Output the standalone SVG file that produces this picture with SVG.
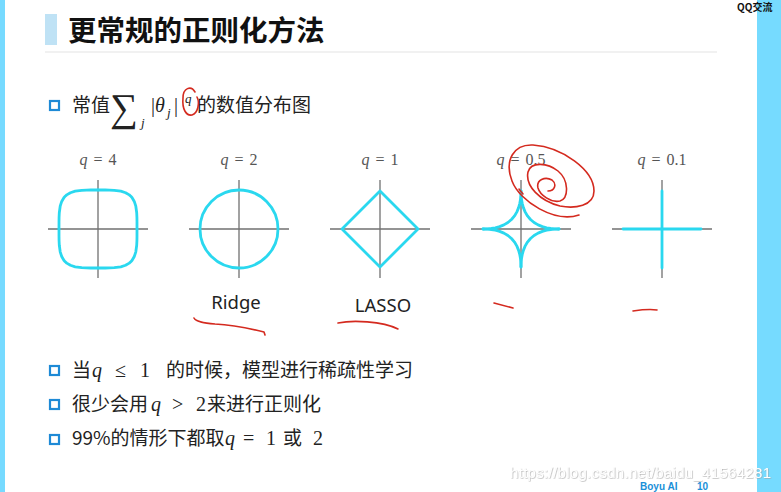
<svg xmlns="http://www.w3.org/2000/svg" xmlns:xlink="http://www.w3.org/1999/xlink" width="781" height="492" viewBox="0 0 781 492">
<style>
.cjk{font-family:"Noto Sans CJK SC","Noto Sans",sans-serif;fill:#222}
.math{font-family:"Liberation Serif","DejaVu Serif",serif;fill:#222}
.it{font-style:italic}
.lbl{font-family:"Liberation Serif","DejaVu Serif",serif;font-size:16px;fill:#555;text-anchor:middle;word-spacing:2px}
.axis{stroke:#707070;stroke-width:1.3;fill:none}
.shape{stroke:#2ad8ef;stroke-width:2.8;fill:none;stroke-linejoin:round;stroke-linecap:round}
.bullet{fill:none;stroke:#1e8ad6;stroke-width:2.2}
.red{stroke:#d42a1f;stroke-width:1.6;fill:none;stroke-linecap:round;stroke-linejoin:round}
.name{font-family:"Noto Sans","Open Sans",sans-serif;font-size:18.5px;fill:#222;text-anchor:middle}
</style>
<defs>
<path id="astro" d="M38,0 L37.43,0 L35.74,-0.04 L33.08,-0.17 L29.63,-0.52 L25.64,-1.21 L21.38,-2.38 L17.11,-4.11 L13.08,-6.49 L9.5,-9.5 L6.49,-13.08 L4.11,-17.11 L2.38,-21.38 L1.21,-25.64 L0.52,-29.63 L0.17,-33.08 L0.04,-35.74 L0,-38"/>
<path id="sup4" d="M39,0 L38.99,-7.29 L38.93,-11.52 L38.7,-16.25 L37.81,-22.81 L36.29,-27.58 L34.13,-31.27 L32.8,-32.8 L31.27,-34.13 L27.58,-36.29 L22.81,-37.81 L16.25,-38.7 L11.52,-38.93 L7.29,-38.99 L0,-39"/>
<filter id="shadow" x="-5%" y="-20%" width="110%" height="140%">
<feDropShadow dx="0.6" dy="0.6" stdDeviation="0.6" flood-color="#9a9a9a" flood-opacity="0.8"/>
</filter>
</defs>
<rect width="781" height="492" fill="#ffffff"/>
<rect x="0" y="0" width="5" height="492" fill="#76daff"/>
<rect x="757" y="0" width="24" height="492" fill="#76dbff"/>
<text x="737" y="11" font-family="'Noto Sans CJK SC',sans-serif" font-size="10" font-weight="bold" fill="#111">QQ交流</text>

<g id="title">
<rect x="45" y="14" width="12" height="31" fill="#bfe2f5"/>
<text x="68" y="41" class="cjk" font-size="28.5" font-weight="bold" style="fill:#111">更常规的正则化方法</text>
<line x1="45" y1="52" x2="717" y2="52" stroke="#e4e4e4" stroke-width="1.2"/>
</g>

<g id="line-formula">
<rect class="bullet" x="50" y="101" width="9" height="9"/>
<text x="72" y="112" class="cjk" font-size="19">常值</text>
<text x="110" y="121" class="math" font-size="39">∑</text>
<text x="141" y="127" class="math it" font-size="13">j</text>
<text x="151" y="112" class="math" font-size="20">|<tspan class="it">θ</tspan></text>
<text x="167" y="117" class="math it" font-size="13">j</text>
<text x="174" y="112" class="math" font-size="20">|</text>
<text x="185" y="103" class="math it" font-size="13">q</text>
<text x="197" y="112" class="cjk" font-size="19">的数值分布图</text>
</g>

<g id="panel-q4">
<text x="98" y="165" class="lbl"><tspan font-style="italic">q</tspan> = 4</text>
<line class="axis" x1="48" y1="229" x2="148" y2="229"/>
<line class="axis" x1="98" y1="180" x2="98" y2="278"/>
<g transform="translate(98,229)" class="shape">
<use href="#sup4"/><use href="#sup4" transform="scale(-1,1)"/><use href="#sup4" transform="scale(1,-1)"/><use href="#sup4" transform="scale(-1,-1)"/>
</g>
</g>

<g id="panel-q2">
<text x="239" y="165" class="lbl"><tspan font-style="italic">q</tspan> = 2</text>
<line class="axis" x1="189" y1="229" x2="289" y2="229"/>
<line class="axis" x1="239" y1="180" x2="239" y2="278"/>
<circle class="shape" cx="239" cy="229" r="39"/>
<text x="236" y="309" class="name">Ridge</text>
</g>

<g id="panel-q1">
<text x="380" y="165" class="lbl"><tspan font-style="italic">q</tspan> = 1</text>
<line class="axis" x1="330" y1="229" x2="430" y2="229"/>
<line class="axis" x1="380" y1="180" x2="380" y2="278"/>
<polygon class="shape" points="380,191 418,229 380,267 342,229"/>
<text x="383" y="312" class="name">LASSO</text>
</g>

<g id="panel-q05">
<text x="521" y="165" class="lbl"><tspan font-style="italic">q</tspan> = 0.5</text>
<line class="axis" x1="471" y1="229" x2="571" y2="229"/>
<line class="axis" x1="521" y1="180" x2="521" y2="278"/>
<g transform="translate(521,229)" class="shape">
<use href="#astro"/><use href="#astro" transform="scale(-1,1)"/><use href="#astro" transform="scale(1,-1)"/><use href="#astro" transform="scale(-1,-1)"/>
</g>
</g>

<g id="panel-q01">
<text x="662" y="165" class="lbl"><tspan font-style="italic">q</tspan> = 0.1</text>
<line class="axis" x1="612" y1="229" x2="712" y2="229"/>
<line class="axis" x1="662" y1="180" x2="662" y2="278"/>
<line class="shape" x1="623" y1="229" x2="701" y2="229"/>
<line class="shape" x1="662" y1="191" x2="662" y2="268"/>
</g>

<g id="annotations">
<path class="red" d="M195,92 C191,85 183,88 183,98 C182,109 186,116 192,115 C198,113 200,103 197,97"/>
<path class="red" d="M579,215 C555,223 520,202 512,181 C504,160 514,144 533,145 C562,147 594,170 594,191 C594,206 575,209 560,206 C540,201 525,186 528,172 C531,161 548,163 558,171 C569,180 569,198 560,201 C551,203 540,195 538,188 C536,180 545,176 552,180 C557,184 555,191 548,191"/>
<path class="red" d="M519,189 L523,194"/>
<path class="red" d="M194,318 C196,322 205,323 215,324 C235,325 252,329 264,332 L265,335"/>
<path class="red" d="M338,323 C352,320 382,321 398,329"/>
<path class="red" d="M494,303 L513,308"/>
<path class="red" d="M633,311 C640,310 650,309 657,310"/>
</g>

<g id="bullets">
<rect class="bullet" x="50" y="366" width="9" height="9"/>
<text x="72" y="377" class="cjk" font-size="19">当</text>
<text y="377" class="math" font-size="20"><tspan x="92" class="it">q</tspan><tspan x="115">≤</tspan><tspan x="140">1</tspan></text>
<text x="166" y="377" class="cjk" font-size="19">的时候，模型进行稀疏性学习</text>

<rect class="bullet" x="50" y="400" width="9" height="9"/>
<text x="72" y="411" class="cjk" font-size="19">很少会用</text>
<text y="411" class="math" font-size="20"><tspan x="151" class="it">q</tspan><tspan x="172">&gt;</tspan><tspan x="196">2</tspan></text>
<text x="207" y="411" class="cjk" font-size="19">来进行正则化</text>

<rect class="bullet" x="50" y="435" width="9" height="9"/>
<text x="72" y="445" class="cjk" font-size="19">99%的情形下都取</text>
<text y="445" class="math" font-size="20"><tspan x="225" class="it">q</tspan><tspan x="243">=</tspan><tspan x="266">1</tspan></text>
<text x="283" y="445" class="cjk" font-size="19">或</text>
<text x="313" y="445" class="math" font-size="20">2</text>
</g>

<text x="510" y="478" font-family="'Liberation Sans',Arial,sans-serif" font-size="15" fill="#ffffff" filter="url(#shadow)" textLength="261">https://blog.csdn.net/baidu_41564281</text>
<text x="640" y="490" font-family="'Liberation Sans',Arial,sans-serif" font-size="10" font-weight="bold" fill="#1a8fd8">Boyu AI</text>
<text x="697" y="490" font-family="'Liberation Sans',Arial,sans-serif" font-size="10" font-weight="bold" fill="#1a8fd8">10</text>
</svg>
